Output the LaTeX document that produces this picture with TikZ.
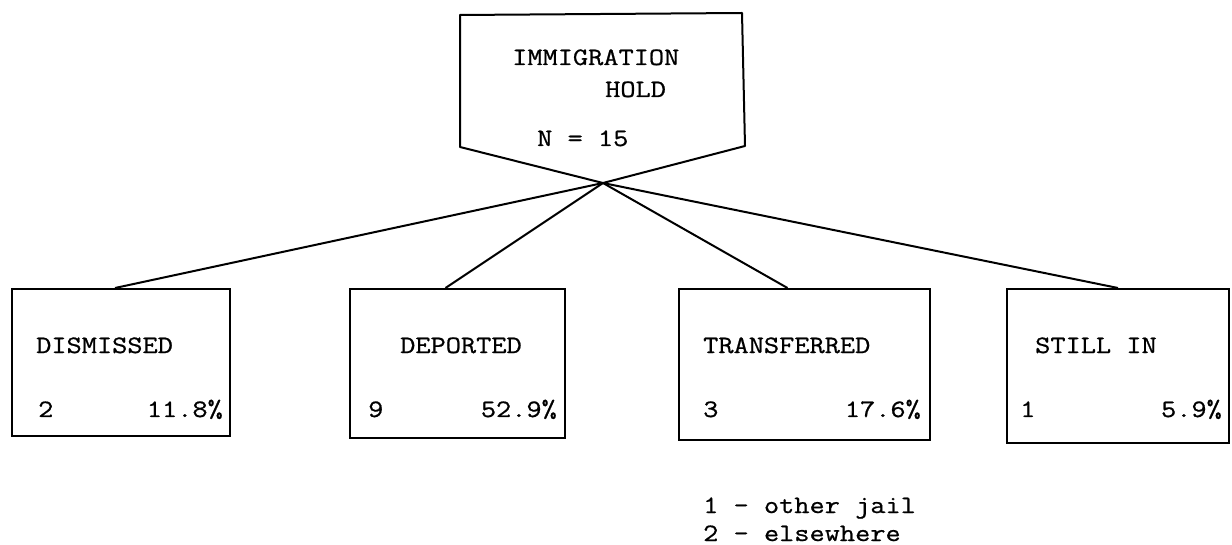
\documentclass[tikz,border=0pt]{standalone}
\usepackage{fontspec}
\setmonofont[FakeStretch=1.18, FakeBold=0.8]{Latin Modern Mono}
\usetikzlibrary{positioning}
\usetikzlibrary{calc}

\tikzset{
  outcome/.style={draw, line width=2pt, inner sep=0pt},
  branch/.style={line width=2pt},
  lbl/.style={inner sep=0pt, anchor=base west, font=\ttfamily\fontsize{25}{30}\selectfont},
  lblr/.style={lbl, anchor=base east},
}

\begin{document}
\begin{tikzpicture}[x=1pt, y=-1pt]
\useasboundingbox (0,0) rectangle (1232,545);
%% top box with the point
\draw[line width=2pt, line join=round] (460,15) -- (742,13) -- (745,146) -- (603,183) -- (460,147) -- cycle;
\coordinate (tip) at (603,183);
\node[lbl] (imm) at (512,65) {IMMIGRATION};
\node[lbl] (hold) at (605,97) {HOLD};
\node[lbl] (total) at (537,146) {N = 15};
%% four outcome boxes
\node[outcome, minimum width=218pt, minimum height=147pt] (dis) at (121,362.5) {};
\node[outcome, minimum width=215pt, minimum height=149pt] (dep) at (457.5,363.5) {};
\node[outcome, minimum width=251pt, minimum height=151pt] (tra) at (804.5,364.5) {};
\node[outcome, minimum width=222pt, minimum height=154pt] (sti) at (1118,366) {};
%% texts in the boxes
\node[lbl] (disname) at (36,353) {DISMISSED};
\node[lbl] (disn) at (38,417) {2};
\node[lblr] (disp) at (223,417) {11.8\%};
\node[lbl] (depname) at (400,353) {DEPORTED};
\node[lbl] (depn) at (368,417) {9};
\node[lblr] (depp) at (557,417) {52.9\%};
\node[lbl] (traname) at (703,353) {TRANSFERRED};
\node[lbl] (tran) at (703,417) {3};
\node[lblr] (trap) at (921,417) {17.6\%};
\node[lbl] (stiname) at (1035,353) {STILL IN};
\node[lbl] (stin) at (1020,417) {1};
\node[lblr] (stip) at (1222,417) {5.9\%};
%% branches
\draw[branch] (tip) -- ($(dis.north)+(-6,0)$);
\draw[branch] (tip) -- ($(dep.north)+(-12,0)$);
\draw[branch] (tip) -- ($(tra.north)+(-17,0)$);
\draw[branch] (tip) -- (sti.north);
%% note under TRANSFERRED
\node[lbl] (note1) at (703,513) {1 - other jail};
\node[lbl] (note2) at (703,541) {2 - elsewhere};
\end{tikzpicture}
\end{document}
